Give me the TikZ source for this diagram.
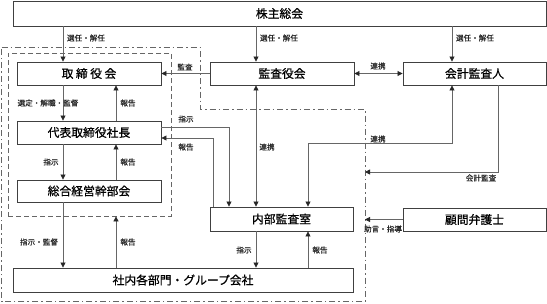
\documentclass[tikz,border=0pt]{standalone}
\usepackage{fontspec}
\setmainfont{Noto Sans CJK JP}
\newfontfamily\boxfont{Noto Sans CJK JP}[FakeBold=0.7]
\newfontfamily\lblfont{Noto Sans CJK JP}[FakeBold=0.3]
\usetikzlibrary{arrows.meta}
\begin{document}
\begin{tikzpicture}[x=1pt,y=-1pt,
  box/.style={draw=black!75, line width=0.9pt, fill=white, inner sep=0pt, font=\boxfont\fontsize{11.8}{12}\selectfont},
  lbl/.style={font=\lblfont\fontsize{7.6}{8}\selectfont, inner sep=0pt, text=black!85},
  ln/.style={draw=black!60, line width=0.8pt},
  arr/.style={ln, -{Triangle[length=5pt,width=5pt,color=black!85]}},
  dbl/.style={ln, {Triangle[length=5pt,width=5pt,color=black!85]}-{Triangle[length=5pt,width=5pt,color=black!85]}},
  grp/.style={draw=black!60, line width=0.8pt, dash pattern=on 5pt off 3pt},
  area/.style={draw=black!60, line width=0.8pt, dash pattern=on 6pt off 3pt on 1.5pt off 3pt}]
\useasboundingbox (0,0) rectangle (547,303);
\fill[white] (0,0) rectangle (547,303);
% helper coordinates
\coordinate (x63) at (63,0);
\coordinate (x116) at (116,0);
\coordinate (x213) at (213,0);
\coordinate (x229) at (229,0);
\coordinate (x256) at (256,0);
\coordinate (x308) at (308,0);
\coordinate (x452) at (452,0);
\coordinate (x498) at (498,0);
\coordinate (y127) at (0,127);
\coordinate (y138) at (0,138);
\coordinate (y143) at (0,143);
\coordinate (y172) at (0,172);
% outer dash-dot area
\coordinate (a1) at (1.5,47);
\coordinate (a2) at (200,47);
\coordinate (a3) at (200,109);
\coordinate (a4) at (365,109);
\coordinate (a5) at (365,301.5);
\coordinate (a6) at (1.5,301.5);
\draw[area] (a1) -- (a2) -- (a3) -- (a4) -- (a5) -- (a6) -- cycle;
% dashed management group
\node[grp, minimum width=163pt, minimum height=163pt, inner sep=0pt] (keiei) at (89.5,134.5) {};
% boxes
\node[box, minimum width=533pt, minimum height=25pt] (kabu) at (279.5,13.5) {株主総会};
\node[box, minimum width=144pt, minimum height=23pt] (tori) at (89,73.5) {取\kern2.5pt 締\kern2.5pt 役\kern2.5pt 会};
\node[box, minimum width=144pt, minimum height=23pt] (daihyo) at (89,132.5) {代表取締役社長};
\node[box, minimum width=144pt, minimum height=22pt] (sogo) at (89,191) {総合経営幹部会};
\node[box, minimum width=144pt, minimum height=23pt] (kansa) at (282,73.5) {監査役会};
\node[box, minimum width=143pt, minimum height=23pt] (kaikei) at (474.5,73.5) {会計監査人};
\node[box, minimum width=143pt, minimum height=24pt] (naibu) at (281.5,219) {内部監査室};
\node[box, minimum width=143pt, minimum height=23pt] (komon) at (474.5,219.5) {顧問弁護士};
\node[box, minimum width=340pt, minimum height=24pt] (shanai) at (183,280) {社内各部門・グループ会社};
\coordinate (kaikeiend) at (a4 |- y172);
\coordinate (komonend) at (a4 |- komon.west);
% connectors
\draw[arr] (kabu.south -| x63) -- (tori.north -| x63);
\draw[arr] (kabu.south -| x256) -- (kansa.north -| x256);
\draw[arr] (kabu.south -| x452) -- (kaikei.north -| x452);
\draw[arr] (kansa.west) -- (tori.east);
\draw[dbl] (kansa.east) -- (kaikei.west);
\draw[arr] (tori.south -| x63) -- (daihyo.north -| x63);
\draw[arr] (daihyo.north -| x116) -- (tori.south -| x116);
\draw[arr] (daihyo.south -| x63) -- (sogo.north -| x63);
\draw[arr] (sogo.north -| x116) -- (daihyo.south -| x116);
\draw[arr] (sogo.south -| x63) -- (shanai.north -| x63);
\draw[arr] (shanai.north -| x116) -- (keiei.south -| x116);
\draw[arr] (daihyo.east |- y127) -| (naibu.north -| x229);
\draw[arr] (naibu.north -| x213) |- (daihyo.east |- y138);
\draw[dbl] (kansa.south -| x256) -- (naibu.north -| x256);
\draw[dbl] (kaikei.south -| x452) |- (x308 |- y143) -- (naibu.north -| x308);
\draw[arr] (kaikei.south -| x498) |- (kaikeiend);
\draw[arr] (komon.west) -- (komonend);
\draw[arr] (naibu.south -| x256) -- (shanai.north -| x256);
\draw[arr] (shanai.north -| x308) -- (naibu.south -| x308);
% labels
\node[lbl] at (86,38) {選任・解任};
\node[lbl] at (279,38) {選任・解任};
\node[lbl] at (475,38) {選任・解任};
\node[lbl] at (185,67) {監査};
\node[lbl] at (378,66) {連携};
\node[lbl] at (48,103) {選定・解職・監督};
\node[lbl] at (128,103) {報告};
\node[lbl] at (51,162) {指示};
\node[lbl] at (128,162) {報告};
\node[lbl] at (186,119) {指示};
\node[lbl] at (186,147) {報告};
\node[lbl] at (39,242) {指示・監督};
\node[lbl] at (128,242) {報告};
\node[lbl] at (267,147) {連携};
\node[lbl] at (378,139) {連携};
\node[lbl] at (481,178) {会計監査};
\node[lbl] at (383,229) {助言・指導};
\node[lbl] at (244,250) {指示};
\node[lbl] at (320,250) {報告};
\end{tikzpicture}
\end{document}
